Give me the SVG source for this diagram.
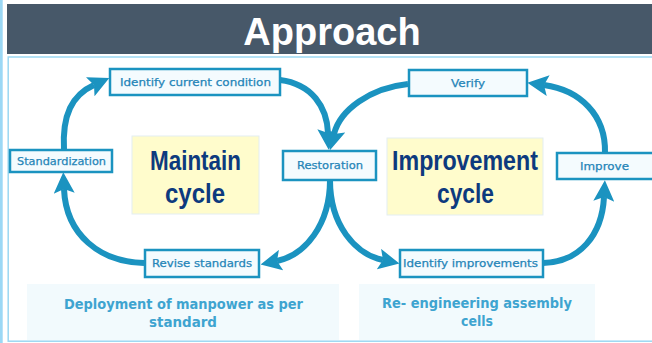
<svg xmlns="http://www.w3.org/2000/svg" width="652" height="343" viewBox="0 0 652 343">
<defs>
<style>
.node rect{fill:#f4fbfe;stroke:#1b93c0;stroke-width:2.5}
.node text{font-family:"DejaVu Sans","Noto Sans",sans-serif;font-size:10.5px;font-weight:normal;fill:#2585b8;stroke:#2585b8;stroke-width:0.25;text-anchor:middle}
.big{font-family:"Liberation Sans Narrow","Liberation Sans",Arial,sans-serif;font-weight:bold;font-size:28px;fill:#0d3a7e;text-anchor:middle}
.cap{font-family:"DejaVu Sans","Noto Sans",sans-serif;font-weight:bold;font-size:14.5px;fill:#3ea4d0;text-anchor:middle}
.yel{fill:#fffccc;stroke:#e3eef2;stroke-width:1}
.capbox{fill:#f2fafd}
.arr{fill:none;stroke:#1b93c0;stroke-width:6;marker-end:url(#ah)}
</style>
<marker id="ah" viewBox="0 0 10 10" refX="2" refY="5" markerWidth="3.5" markerHeight="3.5" orient="auto" markerUnits="strokeWidth">
<path d="M0,0 L10,5 L0,10 L2,5 z" fill="#1b93c0"/>
</marker>
</defs>
<rect x="0" y="0" width="652" height="343" fill="#ffffff"/>
<rect x="0" y="0" width="2.7" height="343" fill="#9bd8f5"/>
<rect x="7" y="4" width="645" height="50" fill="#475869"/>
<text x="332" y="45" font-family="Liberation Sans,Arial,sans-serif" font-weight="bold" font-size="38" fill="#ffffff" text-anchor="middle">Approach</text>
<rect x="8.2" y="57" width="650" height="284.2" fill="none" stroke="#9bd8f2" stroke-width="1.5"/>

<rect class="capbox" x="27" y="284" width="312" height="56"/>
<rect class="capbox" x="359" y="284" width="236" height="56"/>
<text class="cap" x="183.5" y="309" textLength="239" lengthAdjust="spacingAndGlyphs">Deployment of manpower as per</text>
<text class="cap" x="183" y="327" textLength="68" lengthAdjust="spacingAndGlyphs">standard</text>
<text class="cap" x="477" y="308" textLength="190" lengthAdjust="spacingAndGlyphs">Re- engineering assembly</text>
<text class="cap" x="477" y="326" textLength="32" lengthAdjust="spacingAndGlyphs">cells</text>

<g id="maintain">
<rect class="yel" x="132" y="136" width="127" height="78"/>
<text class="big" x="195.5" y="170" textLength="91" lengthAdjust="spacingAndGlyphs">Maintain</text>
<text class="big" x="195" y="203" textLength="60" lengthAdjust="spacingAndGlyphs">cycle</text>
</g>
<g id="improvement">
<rect class="yel" x="387" y="138" width="156" height="77"/>
<text class="big" x="465" y="170" textLength="146" lengthAdjust="spacingAndGlyphs">Improvement</text>
<text class="big" x="465.5" y="203" textLength="57" lengthAdjust="spacingAndGlyphs">cycle</text>
</g>

<g id="connectors">
<path class="arr" d="M 64 150 C 62 115, 72 95, 94 85"/>
<path class="arr" d="M 280 80 C 312 84, 327 107, 328 133"/>
<path class="arr" d="M 408 84 C 370 88, 340 110, 334 134"/>
<path class="arr" d="M 605 153 C 606 115, 580 90, 544 85"/>
<path class="arr" d="M 543 263 C 580 262, 602 235, 604 197"/>
<path class="arr" d="M 330 180 C 330 225, 355 254, 383 260"/>
<path class="arr" d="M 330 180 C 330 225, 305 255, 277 261"/>
<path class="arr" d="M 144 263 C 100 262, 66 235, 64 189"/>
</g>

<g id="identify-current" class="node">
<rect x="110" y="69" width="170" height="26"/>
<text x="195.5" y="86" textLength="151" lengthAdjust="spacingAndGlyphs">Identify current condition</text>
</g>
<g id="standardization" class="node">
<rect x="10" y="150" width="102" height="22"/>
<text x="61.5" y="165" textLength="89" lengthAdjust="spacingAndGlyphs">Standardization</text>
</g>
<g id="restoration" class="node">
<rect x="283" y="151" width="93" height="29"/>
<text x="330" y="169" textLength="66" lengthAdjust="spacingAndGlyphs">Restoration</text>
</g>
<g id="verify" class="node">
<rect x="409" y="70" width="118" height="26"/>
<text x="468" y="87" textLength="34" lengthAdjust="spacingAndGlyphs">Verify</text>
</g>
<g id="improve" class="node">
<rect x="557" y="153" width="98" height="26"/>
<text x="604.5" y="170" textLength="49" lengthAdjust="spacingAndGlyphs">Improve</text>
</g>
<g id="revise" class="node">
<rect x="145" y="250" width="114" height="27"/>
<text x="202" y="267" textLength="100" lengthAdjust="spacingAndGlyphs">Revise standards</text>
</g>
<g id="identify-improvements" class="node">
<rect x="400" y="250" width="143" height="27"/>
<text x="470.5" y="267" textLength="135" lengthAdjust="spacingAndGlyphs">Identify improvements</text>
</g>
</svg>
